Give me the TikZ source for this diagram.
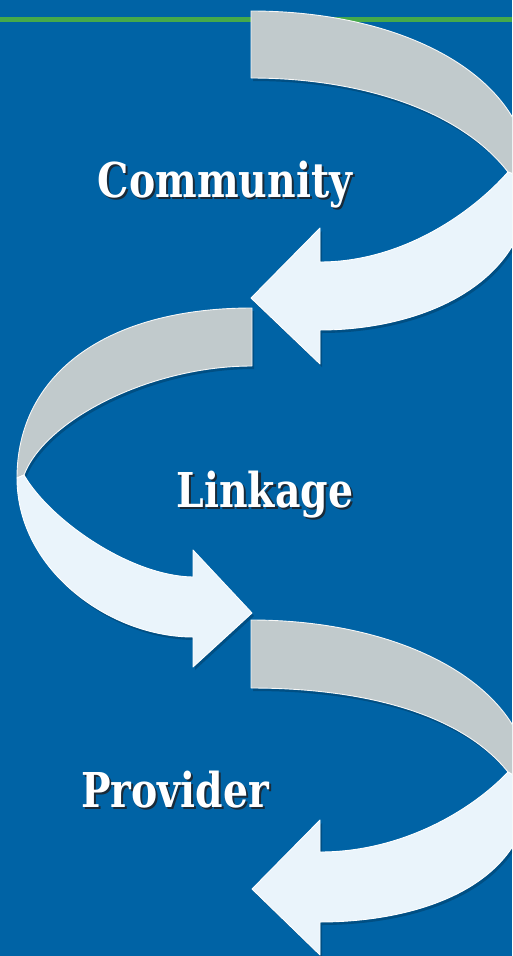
\documentclass[tikz,border=0pt]{standalone}
\usepackage{fontspec}
\newfontfamily\wordfont{DejaVu Serif}
\definecolor{bgblue}{HTML}{0063A5}
\definecolor{rulegreen}{HTML}{46A94A}
\definecolor{backband}{HTML}{C1CACC}
\definecolor{frontband}{HTML}{EAF4FB}
\definecolor{wordshadow}{HTML}{1A2A38}
% white word with a dark offset shadow, condensed horizontally
\newcommand\shadowword[1]{\scalebox{0.82}[1]{\rlap{\kern2.5pt\raisebox{-2.5pt}{\color{wordshadow}#1}}#1}}
\tikzset{
  backpiece/.style={fill=backband, draw=white!85!backband, line width=0.9pt, line join=round},
  frontpiece/.style={fill=frontband, draw=white, line width=0.9pt, line join=round},
  dropshade/.style={fill=black, fill opacity=0.2, draw=none, shift={(2,3)}},
  word/.style={font=\wordfont\bfseries\fontsize{48}{52}\selectfont, text=white, inner sep=0pt, anchor=base},
}
% top band (curves right, points left)
\newcommand\bandOneBack[1]{\path[#1] (251,11) .. controls (410,11) and (530,80) .. (530,180)
  -- (508,172) .. controls (460,110) and (360,78) .. (251,78) -- cycle;}
\newcommand\bandOneFront[1]{\path[#1] (508,172) -- (530,180) .. controls (530,285) and (420,330) .. (320,330)
  -- (320,364) -- (251,298) -- (320,228) -- (320,262) .. controls (400,262) and (470,215) .. (508,172) -- cycle;}
% middle band (curves left, points right)
\newcommand\bandTwoBack[1]{\path[#1] (252,308) .. controls (105,308) and (17,375) .. (17,478)
  -- (24,475) .. controls (45,420) and (150,366) .. (252,366) -- cycle;}
\newcommand\bandTwoFront[1]{\path[#1] (24,475) -- (17,478) .. controls (17,570) and (110,637) .. (193,637)
  -- (193,667) -- (252,613) -- (193,550) -- (193,577) .. controls (130,576) and (50,520) .. (24,475) -- cycle;}
% bottom band (curves right, points left)
\newcommand\bandThreeBack[1]{\path[#1] (251,620) .. controls (410,620) and (530,690) .. (530,785)
  -- (508,772) .. controls (460,712) and (360,688) .. (251,688) -- cycle;}
\newcommand\bandThreeFront[1]{\path[#1] (508,772) -- (530,785) .. controls (530,885) and (420,922) .. (320,922)
  -- (320,955) -- (252,889) -- (320,820) -- (320,852) .. controls (400,852) and (470,812) .. (508,772) -- cycle;}
\begin{document}
\begin{tikzpicture}[x=1pt, y=-1pt]
  \useasboundingbox (0,0) rectangle (512,956);
  \clip (0,0) rectangle (512,956);
  \fill[bgblue] (0,0) rectangle (512,956);
  \fill[rulegreen] (0,17) rectangle (512,21.5);

  % shadows under the bands
  \bandOneBack{dropshade}
  \bandOneFront{dropshade}
  \bandTwoBack{dropshade}
  \bandTwoFront{dropshade}
  \bandThreeBack{dropshade}
  \bandThreeFront{dropshade}

  % the bands
  \bandOneBack{backpiece}
  \bandOneFront{frontpiece}
  \bandTwoBack{backpiece}
  \bandTwoFront{frontpiece}
  \bandThreeBack{backpiece}
  \bandThreeFront{frontpiece}

  % labels
  \node[word] (community) at (225,197) {\shadowword{Community}};
  \node[word] (linkage) at (265,507) {\shadowword{Linkage}};
  \node[word] (provider) at (175,807) {\shadowword{Provider}};
\end{tikzpicture}
\end{document}
